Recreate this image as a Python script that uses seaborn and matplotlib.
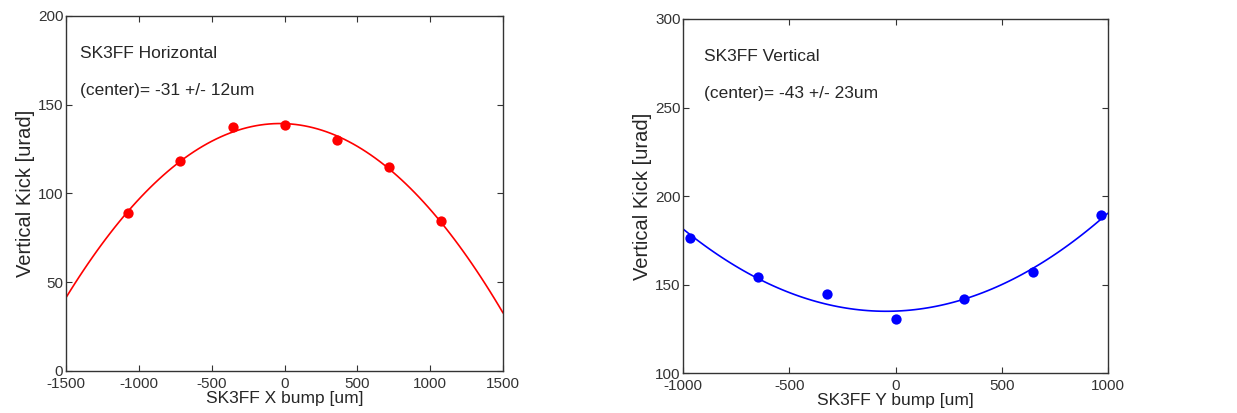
import numpy as np
import pandas as pd
import seaborn as sns
import matplotlib.pyplot as plt

x_bump_h = [-1072, -715, -357, 0, 357, 715, 1072]
kick_h = [89.2, 118.5, 137.5, 138.4, 130.1, 114.7, 84.5]

y_bump_v = [-970, -647, -323, 0, 323, 647, 970]
kick_v = [176.5, 154.2, 144.8, 130.8, 141.8, 157.0, 189.2]

titles = ['SK3FF Horizontal', 'SK3FF Vertical']
centers = ['(center)= -31 +/- 12um', '(center)= -43 +/- 23um']
xlabels = ['SK3FF X bump [um]', 'SK3FF Y bump [um]']
ylabel = 'Vertical Kick [urad]'

sns.set_style('ticks')
plt.rcParams['font.family'] = ['Liberation Sans', 'DejaVu Sans']
plt.rcParams.update({
    'axes.unicode_minus': False,
    'xtick.direction': 'in', 'ytick.direction': 'in',
    'xtick.top': True, 'ytick.right': True,
    'xtick.major.size': 4, 'ytick.major.size': 4,
    'xtick.major.pad': 4, 'ytick.major.pad': 2,
    'axes.edgecolor': '#333333', 'axes.linewidth': 1.0,
    'xtick.color': '#333333', 'ytick.color': '#333333',
})

fig = plt.figure(figsize=(12.37, 4.13), dpi=100)
ax1 = fig.add_axes([0.0534, 0.1017, 0.3533, 0.8596])
ax2 = fig.add_axes([0.5524, 0.0961, 0.3431, 0.8579])

df_h = pd.DataFrame({'bump': x_bump_h, 'kick': kick_h})
df_v = pd.DataFrame({'bump': y_bump_v, 'kick': kick_v})

panels = [
    (ax1, df_h, 'red', (-1500, 1500), (0, 200), np.arange(-1500, 1501, 500), np.arange(0, 201, 50), 0.032),
    (ax2, df_v, 'blue', (-1000, 1000), (100, 300), np.arange(-1000, 1001, 500), np.arange(100, 301, 50), 0.049),
]

for i, (ax, df, color, xlim, ylim, xt, yt, tx) in enumerate(panels):
    ax.set_xlim(*xlim)
    ax.set_ylim(*ylim)
    # quadratic fit across the whole axis range
    sns.regplot(data=df, x='bump', y='kick', order=2, ci=None, truncate=False, ax=ax,
                color=color,
                scatter_kws={'s': 55, 'zorder': 3, 'linewidths': 0, 'alpha': 1},
                line_kws={'lw': 1.2, 'zorder': 2})
    ax.set_xlim(*xlim)
    ax.set_ylim(*ylim)
    ax.set_xticks(xt)
    ax.set_yticks(yt)
    ax.tick_params(labelsize=11)
    ax.set_xlabel(xlabels[i], fontsize=12.5, labelpad=0)
    ax.set_ylabel(ylabel, fontsize=14.5, labelpad=2)
    ax.text(tx, 0.895, titles[i], transform=ax.transAxes, fontsize=12.5, va='center')
    ax.text(tx, 0.79, centers[i], transform=ax.transAxes, fontsize=12.5, va='center')

fig.savefig('out.png', dpi=100)
